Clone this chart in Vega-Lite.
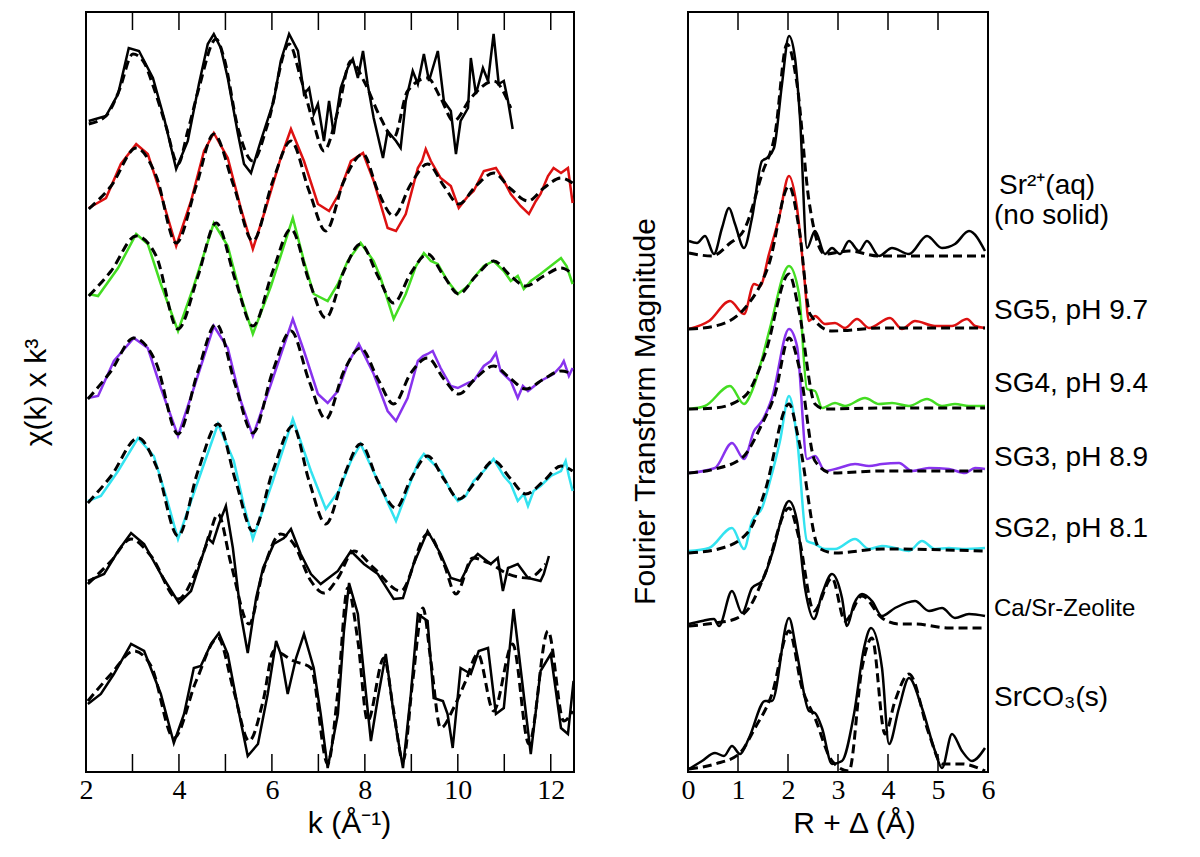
{
"$schema": "https://vega.github.io/schema/vega-lite/v6.json",
"padding": {"left": 20, "top": 10, "right": 0, "bottom": 0},
"background": "white",
"config": {"view": {"stroke": "black", "strokeWidth": 2}, "font": "Liberation Sans"},
"spacing": 54,
"datasets": {
"kt": [{"x":3,"lo":0,"hi":18},{"x":4,"lo":0,"hi":18},{"x":5,"lo":0,"hi":18},{"x":6,"lo":0,"hi":18},{"x":7,"lo":0,"hi":18},{"x":8,"lo":0,"hi":18},{"x":9,"lo":0,"hi":18},{"x":10,"lo":0,"hi":18},{"x":11,"lo":0,"hi":18},{"x":12,"lo":0,"hi":18},
{"x":3,"lo":742,"hi":760},{"x":4,"lo":742,"hi":760},{"x":5,"lo":742,"hi":760},{"x":6,"lo":742,"hi":760},{"x":7,"lo":742,"hi":760},{"x":8,"lo":742,"hi":760},{"x":9,"lo":742,"hi":760},{"x":10,"lo":742,"hi":760},{"x":11,"lo":742,"hi":760},{"x":12,"lo":742,"hi":760}],
"rt": [{"x":1,"lo":0,"hi":18},{"x":2,"lo":0,"hi":18},{"x":3,"lo":0,"hi":18},{"x":4,"lo":0,"hi":18},{"x":5,"lo":0,"hi":18},
{"x":1,"lo":742,"hi":760},{"x":2,"lo":742,"hi":760},{"x":3,"lo":742,"hi":760},{"x":4,"lo":742,"hi":760},{"x":5,"lo":742,"hi":760}],
"k": [
{"s":"aq","t":"d","x":2.06,"y":651},{"s":"aq","t":"d","x":2.43,"y":656},{"s":"aq","t":"d","x":2.69,"y":678},{"s":"aq","t":"d","x":2.92,"y":724},{"s":"aq","t":"d","x":3.14,"y":721},{"s":"aq","t":"d","x":3.44,"y":694},{"s":"aq","t":"d","x":3.68,"y":654},{"s":"aq","t":"d","x":3.94,"y":603},{"s":"aq","t":"d","x":4.19,"y":631},{"s":"aq","t":"d","x":4.43,"y":688},{"s":"aq","t":"d","x":4.62,"y":728},{"s":"aq","t":"d","x":4.75,"y":738},{"s":"aq","t":"d","x":4.90,"y":724},{"s":"aq","t":"d","x":5.05,"y":694},{"s":"aq","t":"d","x":5.27,"y":638},{"s":"aq","t":"d","x":5.40,"y":608},{"s":"aq","t":"d","x":5.55,"y":599},{"s":"aq","t":"d","x":5.76,"y":631},{"s":"aq","t":"d","x":6.04,"y":671},{"s":"aq","t":"d","x":6.19,"y":711},{"s":"aq","t":"d","x":6.37,"y":738},{"s":"aq","t":"d","x":6.56,"y":721},{"s":"aq","t":"d","x":6.69,"y":678},{"s":"aq","t":"d","x":6.80,"y":684},{"s":"aq","t":"d","x":6.90,"y":658},{"s":"aq","t":"d","x":6.99,"y":668},{"s":"aq","t":"d","x":7.12,"y":631},{"s":"aq","t":"d","x":7.23,"y":671},{"s":"aq","t":"d","x":7.33,"y":638},{"s":"aq","t":"d","x":7.48,"y":684},{"s":"aq","t":"d","x":7.63,"y":704},{"s":"aq","t":"d","x":7.74,"y":713},{"s":"aq","t":"d","x":7.85,"y":694},{"s":"aq","t":"d","x":7.96,"y":721},{"s":"aq","t":"d","x":8.06,"y":688},{"s":"aq","t":"d","x":8.19,"y":654},{"s":"aq","t":"d","x":8.39,"y":614},{"s":"aq","t":"d","x":8.49,"y":641},{"s":"aq","t":"d","x":8.67,"y":631},{"s":"aq","t":"d","x":8.77,"y":624},{"s":"aq","t":"d","x":8.88,"y":671},{"s":"aq","t":"d","x":9.03,"y":701},{"s":"aq","t":"d","x":9.14,"y":688},{"s":"aq","t":"d","x":9.27,"y":718},{"s":"aq","t":"d","x":9.38,"y":691},{"s":"aq","t":"d","x":9.57,"y":721},{"s":"aq","t":"d","x":9.70,"y":671},{"s":"aq","t":"d","x":9.85,"y":661},{"s":"aq","t":"d","x":9.96,"y":618},{"s":"aq","t":"d","x":10.06,"y":651},{"s":"aq","t":"d","x":10.22,"y":664},{"s":"aq","t":"d","x":10.28,"y":714},{"s":"aq","t":"d","x":10.39,"y":678},{"s":"aq","t":"d","x":10.54,"y":704},{"s":"aq","t":"d","x":10.65,"y":691},{"s":"aq","t":"d","x":10.77,"y":738},{"s":"aq","t":"d","x":10.88,"y":688},{"s":"aq","t":"d","x":10.99,"y":691},{"s":"aq","t":"d","x":11.08,"y":671},{"s":"aq","t":"d","x":11.18,"y":643},
{"s":"aq","t":"f","x":2.06,"y":648},{"s":"aq","t":"f","x":2.43,"y":656},{"s":"aq","t":"f","x":2.71,"y":681},{"s":"aq","t":"f","x":3.01,"y":718},{"s":"aq","t":"f","x":3.23,"y":711},{"s":"aq","t":"f","x":3.46,"y":684},{"s":"aq","t":"f","x":3.72,"y":646},{"s":"aq","t":"f","x":3.98,"y":608},{"s":"aq","t":"f","x":4.19,"y":641},{"s":"aq","t":"f","x":4.43,"y":684},{"s":"aq","t":"f","x":4.80,"y":733},{"s":"aq","t":"f","x":4.97,"y":714},{"s":"aq","t":"f","x":5.27,"y":644},{"s":"aq","t":"f","x":5.59,"y":611},{"s":"aq","t":"f","x":5.91,"y":648},{"s":"aq","t":"f","x":6.37,"y":728},{"s":"aq","t":"f","x":6.62,"y":694},{"s":"aq","t":"f","x":6.90,"y":648},{"s":"aq","t":"f","x":7.12,"y":621},{"s":"aq","t":"f","x":7.42,"y":661},{"s":"aq","t":"f","x":7.70,"y":711},{"s":"aq","t":"f","x":7.98,"y":691},{"s":"aq","t":"f","x":8.34,"y":654},{"s":"aq","t":"f","x":8.62,"y":634},{"s":"aq","t":"f","x":8.92,"y":681},{"s":"aq","t":"f","x":9.35,"y":694},{"s":"aq","t":"f","x":9.63,"y":674},{"s":"aq","t":"f","x":9.91,"y":651},{"s":"aq","t":"f","x":10.28,"y":674},{"s":"aq","t":"f","x":10.77,"y":691},{"s":"aq","t":"f","x":11.14,"y":664},
{"s":"sg5","t":"d","x":2.06,"y":564},{"s":"sg5","t":"d","x":2.43,"y":574},{"s":"sg5","t":"d","x":2.75,"y":608},{"s":"sg5","t":"d","x":3.08,"y":628},{"s":"sg5","t":"d","x":3.33,"y":618},{"s":"sg5","t":"d","x":3.61,"y":578},{"s":"sg5","t":"d","x":3.94,"y":526},{"s":"sg5","t":"d","x":4.26,"y":571},{"s":"sg5","t":"d","x":4.54,"y":621},{"s":"sg5","t":"d","x":4.75,"y":639},{"s":"sg5","t":"d","x":5.05,"y":614},{"s":"sg5","t":"d","x":5.33,"y":564},{"s":"sg5","t":"d","x":5.59,"y":523},{"s":"sg5","t":"d","x":5.87,"y":564},{"s":"sg5","t":"d","x":6.19,"y":614},{"s":"sg5","t":"d","x":6.41,"y":643},{"s":"sg5","t":"d","x":6.69,"y":611},{"s":"sg5","t":"d","x":6.99,"y":568},{"s":"sg5","t":"d","x":7.23,"y":561},{"s":"sg5","t":"d","x":7.44,"y":578},{"s":"sg5","t":"d","x":7.70,"y":611},{"s":"sg5","t":"d","x":7.96,"y":619},{"s":"sg5","t":"d","x":8.19,"y":591},{"s":"sg5","t":"d","x":8.49,"y":544},{"s":"sg5","t":"d","x":8.67,"y":541},{"s":"sg5","t":"d","x":8.88,"y":558},{"s":"sg5","t":"d","x":9.14,"y":604},{"s":"sg5","t":"d","x":9.23,"y":611},{"s":"sg5","t":"d","x":9.31,"y":623},{"s":"sg5","t":"d","x":9.42,"y":611},{"s":"sg5","t":"d","x":9.63,"y":594},{"s":"sg5","t":"d","x":9.85,"y":586},{"s":"sg5","t":"d","x":10.02,"y":564},{"s":"sg5","t":"d","x":10.22,"y":576},{"s":"sg5","t":"d","x":10.34,"y":581},{"s":"sg5","t":"d","x":10.56,"y":601},{"s":"sg5","t":"d","x":10.82,"y":604},{"s":"sg5","t":"d","x":10.97,"y":593},{"s":"sg5","t":"d","x":11.14,"y":578},{"s":"sg5","t":"d","x":11.35,"y":566},{"s":"sg5","t":"d","x":11.53,"y":558},{"s":"sg5","t":"d","x":11.68,"y":571},{"s":"sg5","t":"d","x":11.78,"y":578},{"s":"sg5","t":"d","x":11.94,"y":596},{"s":"sg5","t":"d","x":12.06,"y":604},{"s":"sg5","t":"d","x":12.22,"y":599},{"s":"sg5","t":"d","x":12.37,"y":604},{"s":"sg5","t":"d","x":12.47,"y":569},
{"s":"sg5","t":"f","x":2.06,"y":563},{"s":"sg5","t":"f","x":2.54,"y":586},{"s":"sg5","t":"f","x":3.08,"y":624},{"s":"sg5","t":"f","x":3.51,"y":596},{"s":"sg5","t":"f","x":3.94,"y":529},{"s":"sg5","t":"f","x":4.37,"y":586},{"s":"sg5","t":"f","x":4.75,"y":638},{"s":"sg5","t":"f","x":5.18,"y":586},{"s":"sg5","t":"f","x":5.59,"y":531},{"s":"sg5","t":"f","x":6.02,"y":591},{"s":"sg5","t":"f","x":6.41,"y":631},{"s":"sg5","t":"f","x":6.80,"y":581},{"s":"sg5","t":"f","x":7.16,"y":541},{"s":"sg5","t":"f","x":7.55,"y":591},{"s":"sg5","t":"f","x":7.96,"y":618},{"s":"sg5","t":"f","x":8.28,"y":581},{"s":"sg5","t":"f","x":8.62,"y":556},{"s":"sg5","t":"f","x":8.99,"y":588},{"s":"sg5","t":"f","x":9.35,"y":608},{"s":"sg5","t":"f","x":9.70,"y":586},{"s":"sg5","t":"f","x":10.02,"y":568},{"s":"sg5","t":"f","x":10.39,"y":586},{"s":"sg5","t":"f","x":10.77,"y":599},{"s":"sg5","t":"f","x":11.14,"y":583},{"s":"sg5","t":"f","x":11.51,"y":571},{"s":"sg5","t":"f","x":11.85,"y":584},{"s":"sg5","t":"f","x":12.22,"y":594},{"s":"sg5","t":"f","x":12.47,"y":589},
{"s":"sg4","t":"d","x":2.06,"y":478},{"s":"sg4","t":"d","x":2.26,"y":476},{"s":"sg4","t":"d","x":2.69,"y":504},{"s":"sg4","t":"d","x":3.08,"y":538},{"s":"sg4","t":"d","x":3.33,"y":528},{"s":"sg4","t":"d","x":3.61,"y":488},{"s":"sg4","t":"d","x":3.98,"y":441},{"s":"sg4","t":"d","x":4.32,"y":486},{"s":"sg4","t":"d","x":4.75,"y":549},{"s":"sg4","t":"d","x":5.05,"y":526},{"s":"sg4","t":"d","x":5.33,"y":476},{"s":"sg4","t":"d","x":5.59,"y":438},{"s":"sg4","t":"d","x":5.98,"y":486},{"s":"sg4","t":"d","x":6.45,"y":554},{"s":"sg4","t":"d","x":6.69,"y":511},{"s":"sg4","t":"d","x":6.90,"y":478},{"s":"sg4","t":"d","x":7.20,"y":471},{"s":"sg4","t":"d","x":7.42,"y":488},{"s":"sg4","t":"d","x":7.63,"y":511},{"s":"sg4","t":"d","x":7.91,"y":529},{"s":"sg4","t":"d","x":8.19,"y":511},{"s":"sg4","t":"d","x":8.34,"y":494},{"s":"sg4","t":"d","x":8.62,"y":453},{"s":"sg4","t":"d","x":8.88,"y":478},{"s":"sg4","t":"d","x":9.10,"y":506},{"s":"sg4","t":"d","x":9.27,"y":519},{"s":"sg4","t":"d","x":9.42,"y":511},{"s":"sg4","t":"d","x":9.57,"y":508},{"s":"sg4","t":"d","x":9.78,"y":491},{"s":"sg4","t":"d","x":10.00,"y":478},{"s":"sg4","t":"d","x":10.22,"y":486},{"s":"sg4","t":"d","x":10.34,"y":494},{"s":"sg4","t":"d","x":10.56,"y":506},{"s":"sg4","t":"d","x":10.77,"y":511},{"s":"sg4","t":"d","x":10.99,"y":501},{"s":"sg4","t":"d","x":11.14,"y":491},{"s":"sg4","t":"d","x":11.29,"y":496},{"s":"sg4","t":"d","x":11.42,"y":483},{"s":"sg4","t":"d","x":11.57,"y":491},{"s":"sg4","t":"d","x":11.78,"y":498},{"s":"sg4","t":"d","x":12.00,"y":506},{"s":"sg4","t":"d","x":12.22,"y":514},{"s":"sg4","t":"d","x":12.34,"y":506},{"s":"sg4","t":"d","x":12.47,"y":488},
{"s":"sg4","t":"f","x":2.06,"y":476},{"s":"sg4","t":"f","x":2.54,"y":501},{"s":"sg4","t":"f","x":3.08,"y":536},{"s":"sg4","t":"f","x":3.51,"y":516},{"s":"sg4","t":"f","x":3.98,"y":443},{"s":"sg4","t":"f","x":4.41,"y":496},{"s":"sg4","t":"f","x":4.80,"y":549},{"s":"sg4","t":"f","x":5.22,"y":491},{"s":"sg4","t":"f","x":5.59,"y":446},{"s":"sg4","t":"f","x":6.02,"y":501},{"s":"sg4","t":"f","x":6.41,"y":543},{"s":"sg4","t":"f","x":6.80,"y":491},{"s":"sg4","t":"f","x":7.16,"y":454},{"s":"sg4","t":"f","x":7.55,"y":501},{"s":"sg4","t":"f","x":7.91,"y":528},{"s":"sg4","t":"f","x":8.28,"y":496},{"s":"sg4","t":"f","x":8.62,"y":469},{"s":"sg4","t":"f","x":8.99,"y":499},{"s":"sg4","t":"f","x":9.35,"y":518},{"s":"sg4","t":"f","x":9.70,"y":496},{"s":"sg4","t":"f","x":10.02,"y":478},{"s":"sg4","t":"f","x":10.39,"y":496},{"s":"sg4","t":"f","x":10.77,"y":511},{"s":"sg4","t":"f","x":11.14,"y":496},{"s":"sg4","t":"f","x":11.46,"y":486},{"s":"sg4","t":"f","x":11.85,"y":496},{"s":"sg4","t":"f","x":12.22,"y":504},{"s":"sg4","t":"f","x":12.47,"y":498},
{"s":"sg3","t":"d","x":2.04,"y":374},{"s":"sg3","t":"d","x":2.26,"y":376},{"s":"sg3","t":"d","x":2.60,"y":411},{"s":"sg3","t":"d","x":3.03,"y":434},{"s":"sg3","t":"d","x":3.33,"y":424},{"s":"sg3","t":"d","x":3.61,"y":384},{"s":"sg3","t":"d","x":3.98,"y":336},{"s":"sg3","t":"d","x":4.32,"y":384},{"s":"sg3","t":"d","x":4.75,"y":446},{"s":"sg3","t":"d","x":5.05,"y":424},{"s":"sg3","t":"d","x":5.33,"y":371},{"s":"sg3","t":"d","x":5.59,"y":336},{"s":"sg3","t":"d","x":5.98,"y":388},{"s":"sg3","t":"d","x":6.45,"y":453},{"s":"sg3","t":"d","x":6.69,"y":421},{"s":"sg3","t":"d","x":6.99,"y":378},{"s":"sg3","t":"d","x":7.20,"y":369},{"s":"sg3","t":"d","x":7.42,"y":381},{"s":"sg3","t":"d","x":7.63,"y":408},{"s":"sg3","t":"d","x":7.87,"y":428},{"s":"sg3","t":"d","x":8.19,"y":398},{"s":"sg3","t":"d","x":8.49,"y":361},{"s":"sg3","t":"d","x":8.67,"y":351},{"s":"sg3","t":"d","x":8.92,"y":374},{"s":"sg3","t":"d","x":9.14,"y":411},{"s":"sg3","t":"d","x":9.25,"y":416},{"s":"sg3","t":"d","x":9.35,"y":418},{"s":"sg3","t":"d","x":9.46,"y":421},{"s":"sg3","t":"d","x":9.63,"y":404},{"s":"sg3","t":"d","x":9.85,"y":386},{"s":"sg3","t":"d","x":10.00,"y":384},{"s":"sg3","t":"d","x":10.22,"y":389},{"s":"sg3","t":"d","x":10.34,"y":391},{"s":"sg3","t":"d","x":10.56,"y":406},{"s":"sg3","t":"d","x":10.71,"y":411},{"s":"sg3","t":"d","x":10.82,"y":419},{"s":"sg3","t":"d","x":10.92,"y":401},{"s":"sg3","t":"d","x":11.14,"y":391},{"s":"sg3","t":"d","x":11.29,"y":374},{"s":"sg3","t":"d","x":11.40,"y":386},{"s":"sg3","t":"d","x":11.51,"y":381},{"s":"sg3","t":"d","x":11.78,"y":391},{"s":"sg3","t":"d","x":12.06,"y":398},{"s":"sg3","t":"d","x":12.22,"y":406},{"s":"sg3","t":"d","x":12.28,"y":411},{"s":"sg3","t":"d","x":12.39,"y":396},{"s":"sg3","t":"d","x":12.47,"y":404},
{"s":"sg3","t":"f","x":2.04,"y":373},{"s":"sg3","t":"f","x":2.54,"y":401},{"s":"sg3","t":"f","x":3.03,"y":434},{"s":"sg3","t":"f","x":3.51,"y":409},{"s":"sg3","t":"f","x":3.98,"y":338},{"s":"sg3","t":"f","x":4.41,"y":401},{"s":"sg3","t":"f","x":4.80,"y":448},{"s":"sg3","t":"f","x":5.22,"y":386},{"s":"sg3","t":"f","x":5.59,"y":339},{"s":"sg3","t":"f","x":6.02,"y":401},{"s":"sg3","t":"f","x":6.41,"y":441},{"s":"sg3","t":"f","x":6.80,"y":391},{"s":"sg3","t":"f","x":7.16,"y":353},{"s":"sg3","t":"f","x":7.55,"y":401},{"s":"sg3","t":"f","x":7.91,"y":424},{"s":"sg3","t":"f","x":8.28,"y":393},{"s":"sg3","t":"f","x":8.62,"y":368},{"s":"sg3","t":"f","x":8.99,"y":399},{"s":"sg3","t":"f","x":9.35,"y":414},{"s":"sg3","t":"f","x":9.70,"y":393},{"s":"sg3","t":"f","x":10.02,"y":378},{"s":"sg3","t":"f","x":10.39,"y":394},{"s":"sg3","t":"f","x":10.77,"y":406},{"s":"sg3","t":"f","x":11.14,"y":393},{"s":"sg3","t":"f","x":11.46,"y":383},{"s":"sg3","t":"f","x":11.85,"y":393},{"s":"sg3","t":"f","x":12.22,"y":401},{"s":"sg3","t":"f","x":12.47,"y":398},
{"s":"sg2","t":"d","x":2.04,"y":271},{"s":"sg2","t":"d","x":2.32,"y":276},{"s":"sg2","t":"d","x":2.69,"y":301},{"s":"sg2","t":"d","x":3.12,"y":334},{"s":"sg2","t":"d","x":3.46,"y":316},{"s":"sg2","t":"d","x":3.72,"y":276},{"s":"sg2","t":"d","x":3.98,"y":233},{"s":"sg2","t":"d","x":4.41,"y":291},{"s":"sg2","t":"d","x":4.84,"y":348},{"s":"sg2","t":"d","x":5.18,"y":311},{"s":"sg2","t":"d","x":5.40,"y":266},{"s":"sg2","t":"d","x":5.59,"y":233},{"s":"sg2","t":"d","x":6.02,"y":291},{"s":"sg2","t":"d","x":6.45,"y":353},{"s":"sg2","t":"d","x":6.84,"y":301},{"s":"sg2","t":"d","x":7.16,"y":263},{"s":"sg2","t":"d","x":7.44,"y":281},{"s":"sg2","t":"d","x":7.70,"y":311},{"s":"sg2","t":"d","x":7.91,"y":328},{"s":"sg2","t":"d","x":8.28,"y":291},{"s":"sg2","t":"d","x":8.67,"y":251},{"s":"sg2","t":"d","x":8.99,"y":291},{"s":"sg2","t":"d","x":9.16,"y":311},{"s":"sg2","t":"d","x":9.27,"y":318},{"s":"sg2","t":"d","x":9.42,"y":311},{"s":"sg2","t":"d","x":9.63,"y":301},{"s":"sg2","t":"d","x":9.85,"y":281},{"s":"sg2","t":"d","x":10.00,"y":271},{"s":"sg2","t":"d","x":10.17,"y":276},{"s":"sg2","t":"d","x":10.34,"y":291},{"s":"sg2","t":"d","x":10.56,"y":301},{"s":"sg2","t":"d","x":10.77,"y":313},{"s":"sg2","t":"d","x":10.99,"y":296},{"s":"sg2","t":"d","x":11.14,"y":288},{"s":"sg2","t":"d","x":11.29,"y":271},{"s":"sg2","t":"d","x":11.42,"y":278},{"s":"sg2","t":"d","x":11.51,"y":266},{"s":"sg2","t":"d","x":11.63,"y":281},{"s":"sg2","t":"d","x":11.78,"y":286},{"s":"sg2","t":"d","x":12.00,"y":296},{"s":"sg2","t":"d","x":12.22,"y":301},{"s":"sg2","t":"d","x":12.32,"y":311},{"s":"sg2","t":"d","x":12.39,"y":296},{"s":"sg2","t":"d","x":12.47,"y":281},
{"s":"sg2","t":"f","x":2.04,"y":269},{"s":"sg2","t":"f","x":2.54,"y":296},{"s":"sg2","t":"f","x":3.12,"y":334},{"s":"sg2","t":"f","x":3.51,"y":306},{"s":"sg2","t":"f","x":3.98,"y":236},{"s":"sg2","t":"f","x":4.41,"y":301},{"s":"sg2","t":"f","x":4.84,"y":348},{"s":"sg2","t":"f","x":5.22,"y":291},{"s":"sg2","t":"f","x":5.59,"y":241},{"s":"sg2","t":"f","x":6.02,"y":301},{"s":"sg2","t":"f","x":6.45,"y":346},{"s":"sg2","t":"f","x":6.80,"y":291},{"s":"sg2","t":"f","x":7.16,"y":248},{"s":"sg2","t":"f","x":7.55,"y":296},{"s":"sg2","t":"f","x":7.91,"y":328},{"s":"sg2","t":"f","x":8.28,"y":291},{"s":"sg2","t":"f","x":8.67,"y":264},{"s":"sg2","t":"f","x":8.99,"y":293},{"s":"sg2","t":"f","x":9.35,"y":316},{"s":"sg2","t":"f","x":9.70,"y":293},{"s":"sg2","t":"f","x":10.02,"y":273},{"s":"sg2","t":"f","x":10.39,"y":291},{"s":"sg2","t":"f","x":10.77,"y":311},{"s":"sg2","t":"f","x":11.14,"y":293},{"s":"sg2","t":"f","x":11.46,"y":278},{"s":"sg2","t":"f","x":11.85,"y":291},{"s":"sg2","t":"f","x":12.22,"y":306},{"s":"sg2","t":"f","x":12.47,"y":301},
{"s":"zeo","t":"d","x":2.04,"y":191},{"s":"zeo","t":"d","x":2.39,"y":198},{"s":"zeo","t":"d","x":2.69,"y":221},{"s":"zeo","t":"d","x":2.97,"y":239},{"s":"zeo","t":"d","x":3.25,"y":228},{"s":"zeo","t":"d","x":3.61,"y":198},{"s":"zeo","t":"d","x":4.00,"y":169},{"s":"zeo","t":"d","x":4.26,"y":181},{"s":"zeo","t":"d","x":4.52,"y":218},{"s":"zeo","t":"d","x":4.62,"y":234},{"s":"zeo","t":"d","x":4.73,"y":229},{"s":"zeo","t":"d","x":4.86,"y":248},{"s":"zeo","t":"d","x":5.01,"y":266},{"s":"zeo","t":"d","x":5.16,"y":224},{"s":"zeo","t":"d","x":5.33,"y":158},{"s":"zeo","t":"d","x":5.48,"y":119},{"s":"zeo","t":"d","x":5.66,"y":174},{"s":"zeo","t":"d","x":5.81,"y":204},{"s":"zeo","t":"d","x":6.04,"y":228},{"s":"zeo","t":"d","x":6.26,"y":234},{"s":"zeo","t":"d","x":6.41,"y":243},{"s":"zeo","t":"d","x":6.62,"y":218},{"s":"zeo","t":"d","x":6.84,"y":198},{"s":"zeo","t":"d","x":7.05,"y":188},{"s":"zeo","t":"d","x":7.42,"y":201},{"s":"zeo","t":"d","x":7.70,"y":221},{"s":"zeo","t":"d","x":7.98,"y":208},{"s":"zeo","t":"d","x":8.28,"y":198},{"s":"zeo","t":"d","x":8.62,"y":173},{"s":"zeo","t":"d","x":8.82,"y":174},{"s":"zeo","t":"d","x":9.05,"y":208},{"s":"zeo","t":"d","x":9.35,"y":241},{"s":"zeo","t":"d","x":9.63,"y":218},{"s":"zeo","t":"d","x":9.85,"y":194},{"s":"zeo","t":"d","x":10.06,"y":191},{"s":"zeo","t":"d","x":10.28,"y":211},{"s":"zeo","t":"d","x":10.43,"y":218},{"s":"zeo","t":"d","x":10.71,"y":208},{"s":"zeo","t":"d","x":10.86,"y":214},{"s":"zeo","t":"d","x":10.97,"y":181},{"s":"zeo","t":"d","x":11.08,"y":204},{"s":"zeo","t":"d","x":11.29,"y":208},{"s":"zeo","t":"d","x":11.51,"y":194},{"s":"zeo","t":"d","x":11.78,"y":191},{"s":"zeo","t":"d","x":11.85,"y":198},{"s":"zeo","t":"d","x":11.96,"y":216},
{"s":"zeo","t":"f","x":2.04,"y":188},{"s":"zeo","t":"f","x":2.54,"y":211},{"s":"zeo","t":"f","x":2.97,"y":233},{"s":"zeo","t":"f","x":3.40,"y":216},{"s":"zeo","t":"f","x":3.98,"y":173},{"s":"zeo","t":"f","x":4.37,"y":201},{"s":"zeo","t":"f","x":4.62,"y":231},{"s":"zeo","t":"f","x":4.84,"y":258},{"s":"zeo","t":"f","x":5.12,"y":208},{"s":"zeo","t":"f","x":5.51,"y":148},{"s":"zeo","t":"f","x":5.81,"y":201},{"s":"zeo","t":"f","x":6.19,"y":238},{"s":"zeo","t":"f","x":6.47,"y":228},{"s":"zeo","t":"f","x":6.84,"y":191},{"s":"zeo","t":"f","x":7.12,"y":179},{"s":"zeo","t":"f","x":7.42,"y":194},{"s":"zeo","t":"f","x":7.76,"y":221},{"s":"zeo","t":"f","x":8.19,"y":204},{"s":"zeo","t":"f","x":8.77,"y":181},{"s":"zeo","t":"f","x":9.35,"y":238},{"s":"zeo","t":"f","x":9.70,"y":208},{"s":"zeo","t":"f","x":9.96,"y":178},{"s":"zeo","t":"f","x":10.32,"y":214},{"s":"zeo","t":"f","x":10.71,"y":208},{"s":"zeo","t":"f","x":11.08,"y":198},{"s":"zeo","t":"f","x":11.51,"y":194},{"s":"zeo","t":"f","x":11.89,"y":208},
{"s":"co3","t":"d","x":2.04,"y":68},{"s":"co3","t":"d","x":2.32,"y":78},{"s":"co3","t":"d","x":2.60,"y":98},{"s":"co3","t":"d","x":2.97,"y":128},{"s":"co3","t":"d","x":3.25,"y":121},{"s":"co3","t":"d","x":3.61,"y":78},{"s":"co3","t":"d","x":3.89,"y":29},{"s":"co3","t":"d","x":4.11,"y":58},{"s":"co3","t":"d","x":4.32,"y":104},{"s":"co3","t":"d","x":4.47,"y":106},{"s":"co3","t":"d","x":4.69,"y":128},{"s":"co3","t":"d","x":4.86,"y":139},{"s":"co3","t":"d","x":5.05,"y":118},{"s":"co3","t":"d","x":5.27,"y":64},{"s":"co3","t":"d","x":5.48,"y":16},{"s":"co3","t":"d","x":5.70,"y":28},{"s":"co3","t":"d","x":5.91,"y":78},{"s":"co3","t":"d","x":6.09,"y":131},{"s":"co3","t":"d","x":6.19,"y":118},{"s":"co3","t":"d","x":6.34,"y":78},{"s":"co3","t":"d","x":6.52,"y":114},{"s":"co3","t":"d","x":6.69,"y":138},{"s":"co3","t":"d","x":6.90,"y":104},{"s":"co3","t":"d","x":7.05,"y":58},{"s":"co3","t":"d","x":7.20,"y":4},{"s":"co3","t":"d","x":7.42,"y":58},{"s":"co3","t":"d","x":7.55,"y":141},{"s":"co3","t":"d","x":7.66,"y":189},{"s":"co3","t":"d","x":7.85,"y":158},{"s":"co3","t":"d","x":7.98,"y":98},{"s":"co3","t":"d","x":8.13,"y":31},{"s":"co3","t":"d","x":8.28,"y":74},{"s":"co3","t":"d","x":8.45,"y":118},{"s":"co3","t":"d","x":8.62,"y":58},{"s":"co3","t":"d","x":8.82,"y":4},{"s":"co3","t":"d","x":8.99,"y":78},{"s":"co3","t":"d","x":9.14,"y":158},{"s":"co3","t":"d","x":9.35,"y":151},{"s":"co3","t":"d","x":9.48,"y":74},{"s":"co3","t":"d","x":9.68,"y":71},{"s":"co3","t":"d","x":9.78,"y":58},{"s":"co3","t":"d","x":9.89,"y":24},{"s":"co3","t":"d","x":10.06,"y":104},{"s":"co3","t":"d","x":10.28,"y":98},{"s":"co3","t":"d","x":10.45,"y":121},{"s":"co3","t":"d","x":10.65,"y":124},{"s":"co3","t":"d","x":10.82,"y":58},{"s":"co3","t":"d","x":10.99,"y":64},{"s":"co3","t":"d","x":11.20,"y":163},{"s":"co3","t":"d","x":11.35,"y":104},{"s":"co3","t":"d","x":11.57,"y":18},{"s":"co3","t":"d","x":11.78,"y":101},{"s":"co3","t":"d","x":12.00,"y":118},{"s":"co3","t":"d","x":12.22,"y":44},{"s":"co3","t":"d","x":12.37,"y":38},{"s":"co3","t":"d","x":12.49,"y":91},
{"s":"co3","t":"f","x":2.04,"y":71},{"s":"co3","t":"f","x":2.54,"y":98},{"s":"co3","t":"f","x":3.03,"y":121},{"s":"co3","t":"f","x":3.40,"y":106},{"s":"co3","t":"f","x":3.89,"y":34},{"s":"co3","t":"f","x":4.37,"y":91},{"s":"co3","t":"f","x":4.84,"y":134},{"s":"co3","t":"f","x":5.18,"y":81},{"s":"co3","t":"f","x":5.51,"y":31},{"s":"co3","t":"f","x":5.81,"y":71},{"s":"co3","t":"f","x":6.04,"y":121},{"s":"co3","t":"f","x":6.47,"y":111},{"s":"co3","t":"f","x":6.84,"y":104},{"s":"co3","t":"f","x":7.20,"y":8},{"s":"co3","t":"f","x":7.42,"y":81},{"s":"co3","t":"f","x":7.63,"y":184},{"s":"co3","t":"f","x":7.85,"y":131},{"s":"co3","t":"f","x":8.06,"y":51},{"s":"co3","t":"f","x":8.41,"y":114},{"s":"co3","t":"f","x":8.62,"y":61},{"s":"co3","t":"f","x":8.82,"y":11},{"s":"co3","t":"f","x":9.03,"y":91},{"s":"co3","t":"f","x":9.25,"y":164},{"s":"co3","t":"f","x":9.42,"y":111},{"s":"co3","t":"f","x":9.63,"y":44},{"s":"co3","t":"f","x":9.91,"y":64},{"s":"co3","t":"f","x":10.17,"y":91},{"s":"co3","t":"f","x":10.43,"y":118},{"s":"co3","t":"f","x":10.77,"y":61},{"s":"co3","t":"f","x":11.18,"y":128},{"s":"co3","t":"f","x":11.53,"y":28},{"s":"co3","t":"f","x":11.94,"y":141},{"s":"co3","t":"f","x":12.28,"y":51},{"s":"co3","t":"f","x":12.47,"y":61}
],
"r": [
{"s":"aq","t":"d","x":0.02,"y":531},{"s":"aq","t":"d","x":0.18,"y":529},{"s":"aq","t":"d","x":0.34,"y":536},{"s":"aq","t":"d","x":0.52,"y":518},{"s":"aq","t":"d","x":0.68,"y":544},{"s":"aq","t":"d","x":0.82,"y":564},{"s":"aq","t":"d","x":0.94,"y":548},{"s":"aq","t":"d","x":1.12,"y":524},{"s":"aq","t":"d","x":1.28,"y":554},{"s":"aq","t":"d","x":1.48,"y":611},{"s":"aq","t":"d","x":1.58,"y":614},{"s":"aq","t":"d","x":1.72,"y":624},{"s":"aq","t":"d","x":1.88,"y":688},{"s":"aq","t":"d","x":2.02,"y":736},{"s":"aq","t":"d","x":2.14,"y":714},{"s":"aq","t":"d","x":2.24,"y":654},{"s":"aq","t":"d","x":2.38,"y":524},{"s":"aq","t":"d","x":2.54,"y":541},{"s":"aq","t":"d","x":2.74,"y":518},{"s":"aq","t":"d","x":2.88,"y":524},{"s":"aq","t":"d","x":3.04,"y":518},{"s":"aq","t":"d","x":3.22,"y":531},{"s":"aq","t":"d","x":3.42,"y":521},{"s":"aq","t":"d","x":3.58,"y":531},{"s":"aq","t":"d","x":3.82,"y":516},{"s":"aq","t":"d","x":4.08,"y":524},{"s":"aq","t":"d","x":4.42,"y":518},{"s":"aq","t":"d","x":4.78,"y":536},{"s":"aq","t":"d","x":5.08,"y":524},{"s":"aq","t":"d","x":5.34,"y":528},{"s":"aq","t":"d","x":5.62,"y":541},{"s":"aq","t":"d","x":5.94,"y":521},
{"s":"aq","t":"f","x":0.02,"y":519},{"s":"aq","t":"f","x":0.48,"y":516},{"s":"aq","t":"f","x":0.82,"y":528},{"s":"aq","t":"f","x":1.14,"y":544},{"s":"aq","t":"f","x":1.48,"y":598},{"s":"aq","t":"f","x":1.74,"y":638},{"s":"aq","t":"f","x":1.98,"y":728},{"s":"aq","t":"f","x":2.18,"y":688},{"s":"aq","t":"f","x":2.42,"y":571},{"s":"aq","t":"f","x":2.74,"y":518},{"s":"aq","t":"f","x":3.22,"y":521},{"s":"aq","t":"f","x":3.82,"y":516},{"s":"aq","t":"f","x":4.54,"y":516},{"s":"aq","t":"f","x":5.22,"y":516},{"s":"aq","t":"f","x":5.94,"y":516},
{"s":"sg5","t":"d","x":0.02,"y":443},{"s":"sg5","t":"d","x":0.42,"y":451},{"s":"sg5","t":"d","x":0.84,"y":471},{"s":"sg5","t":"d","x":1.12,"y":458},{"s":"sg5","t":"d","x":1.32,"y":488},{"s":"sg5","t":"d","x":1.44,"y":486},{"s":"sg5","t":"d","x":1.62,"y":518},{"s":"sg5","t":"d","x":1.82,"y":554},{"s":"sg5","t":"d","x":2.02,"y":596},{"s":"sg5","t":"d","x":2.18,"y":564},{"s":"sg5","t":"d","x":2.32,"y":498},{"s":"sg5","t":"d","x":2.42,"y":451},{"s":"sg5","t":"d","x":2.54,"y":456},{"s":"sg5","t":"d","x":2.74,"y":448},{"s":"sg5","t":"d","x":2.94,"y":449},{"s":"sg5","t":"d","x":3.14,"y":444},{"s":"sg5","t":"d","x":3.38,"y":453},{"s":"sg5","t":"d","x":3.62,"y":444},{"s":"sg5","t":"d","x":4.04,"y":454},{"s":"sg5","t":"d","x":4.28,"y":443},{"s":"sg5","t":"d","x":4.54,"y":451},{"s":"sg5","t":"d","x":4.94,"y":446},{"s":"sg5","t":"d","x":5.28,"y":446},{"s":"sg5","t":"d","x":5.58,"y":453},{"s":"sg5","t":"d","x":5.74,"y":446},{"s":"sg5","t":"d","x":5.94,"y":444},
{"s":"sg5","t":"f","x":0.02,"y":443},{"s":"sg5","t":"f","x":0.54,"y":446},{"s":"sg5","t":"f","x":1.14,"y":464},{"s":"sg5","t":"f","x":1.62,"y":508},{"s":"sg5","t":"f","x":2.02,"y":586},{"s":"sg5","t":"f","x":2.22,"y":544},{"s":"sg5","t":"f","x":2.44,"y":458},{"s":"sg5","t":"f","x":2.88,"y":441},{"s":"sg5","t":"f","x":3.88,"y":444},{"s":"sg5","t":"f","x":5.94,"y":444},
{"s":"sg4","t":"d","x":0.02,"y":363},{"s":"sg4","t":"d","x":0.34,"y":366},{"s":"sg4","t":"d","x":0.84,"y":386},{"s":"sg4","t":"d","x":1.12,"y":368},{"s":"sg4","t":"d","x":1.28,"y":381},{"s":"sg4","t":"d","x":1.48,"y":413},{"s":"sg4","t":"d","x":1.64,"y":444},{"s":"sg4","t":"d","x":2.02,"y":506},{"s":"sg4","t":"d","x":2.22,"y":478},{"s":"sg4","t":"d","x":2.38,"y":383},{"s":"sg4","t":"d","x":2.54,"y":381},{"s":"sg4","t":"d","x":2.68,"y":364},{"s":"sg4","t":"d","x":2.94,"y":369},{"s":"sg4","t":"d","x":3.14,"y":366},{"s":"sg4","t":"d","x":3.54,"y":374},{"s":"sg4","t":"d","x":3.82,"y":368},{"s":"sg4","t":"d","x":4.08,"y":369},{"s":"sg4","t":"d","x":4.42,"y":366},{"s":"sg4","t":"d","x":4.78,"y":373},{"s":"sg4","t":"d","x":5.08,"y":366},{"s":"sg4","t":"d","x":5.34,"y":368},{"s":"sg4","t":"d","x":5.62,"y":366},{"s":"sg4","t":"d","x":5.94,"y":366},
{"s":"sg4","t":"f","x":0.02,"y":363},{"s":"sg4","t":"f","x":0.54,"y":364},{"s":"sg4","t":"f","x":1.14,"y":376},{"s":"sg4","t":"f","x":1.54,"y":418},{"s":"sg4","t":"f","x":2.02,"y":498},{"s":"sg4","t":"f","x":2.22,"y":461},{"s":"sg4","t":"f","x":2.54,"y":368},{"s":"sg4","t":"f","x":2.74,"y":363},{"s":"sg4","t":"f","x":3.88,"y":364},{"s":"sg4","t":"f","x":5.94,"y":364},
{"s":"sg3","t":"d","x":0.02,"y":299},{"s":"sg3","t":"d","x":0.54,"y":304},{"s":"sg3","t":"d","x":0.88,"y":329},{"s":"sg3","t":"d","x":1.12,"y":313},{"s":"sg3","t":"d","x":1.32,"y":341},{"s":"sg3","t":"d","x":1.48,"y":351},{"s":"sg3","t":"d","x":1.68,"y":374},{"s":"sg3","t":"d","x":2.02,"y":443},{"s":"sg3","t":"d","x":2.18,"y":426},{"s":"sg3","t":"d","x":2.38,"y":313},{"s":"sg3","t":"d","x":2.54,"y":316},{"s":"sg3","t":"d","x":2.74,"y":301},{"s":"sg3","t":"d","x":3.02,"y":304},{"s":"sg3","t":"d","x":3.34,"y":308},{"s":"sg3","t":"d","x":3.62,"y":306},{"s":"sg3","t":"d","x":3.88,"y":308},{"s":"sg3","t":"d","x":4.22,"y":309},{"s":"sg3","t":"d","x":4.48,"y":301},{"s":"sg3","t":"d","x":4.82,"y":304},{"s":"sg3","t":"d","x":5.22,"y":303},{"s":"sg3","t":"d","x":5.54,"y":299},{"s":"sg3","t":"d","x":5.74,"y":304},{"s":"sg3","t":"d","x":5.94,"y":303},
{"s":"sg3","t":"f","x":0.02,"y":299},{"s":"sg3","t":"f","x":0.54,"y":303},{"s":"sg3","t":"f","x":1.08,"y":314},{"s":"sg3","t":"f","x":1.48,"y":348},{"s":"sg3","t":"f","x":1.74,"y":378},{"s":"sg3","t":"f","x":2.02,"y":434},{"s":"sg3","t":"f","x":2.24,"y":401},{"s":"sg3","t":"f","x":2.54,"y":311},{"s":"sg3","t":"f","x":2.88,"y":299},{"s":"sg3","t":"f","x":3.88,"y":301},{"s":"sg3","t":"f","x":5.94,"y":301},
{"s":"sg2","t":"d","x":0.02,"y":221},{"s":"sg2","t":"d","x":0.42,"y":224},{"s":"sg2","t":"d","x":0.88,"y":244},{"s":"sg2","t":"d","x":1.12,"y":223},{"s":"sg2","t":"d","x":1.28,"y":251},{"s":"sg2","t":"d","x":1.48,"y":264},{"s":"sg2","t":"d","x":1.64,"y":291},{"s":"sg2","t":"d","x":1.84,"y":331},{"s":"sg2","t":"d","x":2.02,"y":376},{"s":"sg2","t":"d","x":2.18,"y":334},{"s":"sg2","t":"d","x":2.38,"y":231},{"s":"sg2","t":"d","x":2.54,"y":228},{"s":"sg2","t":"d","x":2.74,"y":223},{"s":"sg2","t":"d","x":2.94,"y":223},{"s":"sg2","t":"d","x":3.34,"y":233},{"s":"sg2","t":"d","x":3.62,"y":223},{"s":"sg2","t":"d","x":3.88,"y":226},{"s":"sg2","t":"d","x":4.14,"y":224},{"s":"sg2","t":"d","x":4.42,"y":221},{"s":"sg2","t":"d","x":4.68,"y":231},{"s":"sg2","t":"d","x":4.94,"y":223},{"s":"sg2","t":"d","x":5.22,"y":224},{"s":"sg2","t":"d","x":5.48,"y":223},{"s":"sg2","t":"d","x":5.94,"y":224},
{"s":"sg2","t":"f","x":0.02,"y":219},{"s":"sg2","t":"f","x":0.68,"y":224},{"s":"sg2","t":"f","x":1.22,"y":241},{"s":"sg2","t":"f","x":1.54,"y":281},{"s":"sg2","t":"f","x":2.02,"y":368},{"s":"sg2","t":"f","x":2.22,"y":331},{"s":"sg2","t":"f","x":2.62,"y":224},{"s":"sg2","t":"f","x":2.94,"y":219},{"s":"sg2","t":"f","x":3.88,"y":223},{"s":"sg2","t":"f","x":5.94,"y":221},
{"s":"zeo","t":"d","x":0.02,"y":148},{"s":"zeo","t":"d","x":0.28,"y":151},{"s":"zeo","t":"d","x":0.52,"y":153},{"s":"zeo","t":"d","x":0.62,"y":146},{"s":"zeo","t":"d","x":0.88,"y":181},{"s":"zeo","t":"d","x":1.08,"y":159},{"s":"zeo","t":"d","x":1.28,"y":184},{"s":"zeo","t":"d","x":1.48,"y":191},{"s":"zeo","t":"d","x":1.68,"y":218},{"s":"zeo","t":"d","x":2.02,"y":271},{"s":"zeo","t":"d","x":2.18,"y":251},{"s":"zeo","t":"d","x":2.34,"y":184},{"s":"zeo","t":"d","x":2.52,"y":153},{"s":"zeo","t":"d","x":2.68,"y":178},{"s":"zeo","t":"d","x":2.88,"y":198},{"s":"zeo","t":"d","x":3.08,"y":174},{"s":"zeo","t":"d","x":3.18,"y":146},{"s":"zeo","t":"d","x":3.32,"y":168},{"s":"zeo","t":"d","x":3.48,"y":178},{"s":"zeo","t":"d","x":3.68,"y":171},{"s":"zeo","t":"d","x":3.88,"y":156},{"s":"zeo","t":"d","x":4.14,"y":164},{"s":"zeo","t":"d","x":4.54,"y":171},{"s":"zeo","t":"d","x":4.82,"y":161},{"s":"zeo","t":"d","x":5.08,"y":164},{"s":"zeo","t":"d","x":5.34,"y":154},{"s":"zeo","t":"d","x":5.62,"y":158},{"s":"zeo","t":"d","x":5.94,"y":156},
{"s":"zeo","t":"f","x":0.02,"y":146},{"s":"zeo","t":"f","x":0.54,"y":149},{"s":"zeo","t":"f","x":0.94,"y":153},{"s":"zeo","t":"f","x":1.22,"y":164},{"s":"zeo","t":"f","x":1.54,"y":198},{"s":"zeo","t":"f","x":2.02,"y":264},{"s":"zeo","t":"f","x":2.22,"y":234},{"s":"zeo","t":"f","x":2.52,"y":161},{"s":"zeo","t":"f","x":2.88,"y":194},{"s":"zeo","t":"f","x":3.14,"y":151},{"s":"zeo","t":"f","x":3.48,"y":176},{"s":"zeo","t":"f","x":3.88,"y":154},{"s":"zeo","t":"f","x":4.22,"y":148},{"s":"zeo","t":"f","x":4.54,"y":148},{"s":"zeo","t":"f","x":5.22,"y":144},{"s":"zeo","t":"f","x":5.94,"y":144},
{"s":"co3","t":"d","x":0.02,"y":3},{"s":"co3","t":"d","x":0.28,"y":11},{"s":"co3","t":"d","x":0.54,"y":19},{"s":"co3","t":"d","x":0.72,"y":16},{"s":"co3","t":"d","x":0.88,"y":26},{"s":"co3","t":"d","x":1.04,"y":18},{"s":"co3","t":"d","x":1.22,"y":34},{"s":"co3","t":"d","x":1.54,"y":71},{"s":"co3","t":"d","x":1.68,"y":71},{"s":"co3","t":"d","x":2.02,"y":154},{"s":"co3","t":"d","x":2.18,"y":118},{"s":"co3","t":"d","x":2.42,"y":61},{"s":"co3","t":"d","x":2.54,"y":59},{"s":"co3","t":"d","x":2.68,"y":44},{"s":"co3","t":"d","x":2.88,"y":8},{"s":"co3","t":"d","x":3.08,"y":11},{"s":"co3","t":"d","x":3.32,"y":58},{"s":"co3","t":"d","x":3.52,"y":124},{"s":"co3","t":"d","x":3.66,"y":144},{"s":"co3","t":"d","x":3.88,"y":104},{"s":"co3","t":"d","x":4.02,"y":28},{"s":"co3","t":"d","x":4.22,"y":64},{"s":"co3","t":"d","x":4.42,"y":94},{"s":"co3","t":"d","x":4.68,"y":64},{"s":"co3","t":"d","x":4.94,"y":21},{"s":"co3","t":"d","x":5.08,"y":4},{"s":"co3","t":"d","x":5.28,"y":38},{"s":"co3","t":"d","x":5.48,"y":21},{"s":"co3","t":"d","x":5.68,"y":11},{"s":"co3","t":"d","x":5.94,"y":24},
{"s":"co3","t":"f","x":0.02,"y":3},{"s":"co3","t":"f","x":0.54,"y":8},{"s":"co3","t":"f","x":1.02,"y":18},{"s":"co3","t":"f","x":1.34,"y":44},{"s":"co3","t":"f","x":1.68,"y":78},{"s":"co3","t":"f","x":2.02,"y":141},{"s":"co3","t":"f","x":2.28,"y":84},{"s":"co3","t":"f","x":2.54,"y":54},{"s":"co3","t":"f","x":2.88,"y":11},{"s":"co3","t":"f","x":3.22,"y":1},{"s":"co3","t":"f","x":3.48,"y":104},{"s":"co3","t":"f","x":3.68,"y":134},{"s":"co3","t":"f","x":3.94,"y":38},{"s":"co3","t":"f","x":4.14,"y":71},{"s":"co3","t":"f","x":4.42,"y":98},{"s":"co3","t":"f","x":4.82,"y":38},{"s":"co3","t":"f","x":5.08,"y":8},{"s":"co3","t":"f","x":5.48,"y":8},{"s":"co3","t":"f","x":5.94,"y":1}
],
"lab": [
{"label":"Sr²⁺(aq)","x":6.22,"y":586,"small":false},
{"label":"(no solid)","x":6.12,"y":556,"small":false},
{"label":"SG5, pH 9.7","x":6.12,"y":461,"small":false},
{"label":"SG4, pH 9.4","x":6.12,"y":388,"small":false},
{"label":"SG3, pH 8.9","x":6.12,"y":314,"small":false},
{"label":"SG2, pH 8.1","x":6.12,"y":243,"small":false},
{"label":"Ca/Sr-Zeolite","x":6.12,"y":163,"small":true},
{"label":"SrCO₃(s)","x":6.12,"y":74,"small":false}
]
},
"hconcat": [
{
"width": 488, "height": 760,
"encoding": {
  "x": {"field": "x", "type": "quantitative", "scale": {"domain": [2, 12.5], "nice": false, "zero": false},
        "axis": {"orient": "bottom", "values": [2,4,6,8,10,12], "ticks": false, "domain": false, "grid": false, "labelFont": "Liberation Serif", "labelFontSize": 28, "labelColor": "black", "labelPadding": 4, "labelFlush": false, "title": "k (Å⁻¹)", "titleFont": "Liberation Sans", "titleFontSize": 30, "titleFontWeight": "normal", "titleColor": "black", "titlePadding": 4, "titleX": 263}},
  "y": {"field": "y", "type": "quantitative", "scale": {"domain": [0, 760], "nice": false},
        "axis": {"orient": "left", "ticks": false, "labels": false, "domain": false, "grid": false, "title": "χ(k) x k³", "titleFont": "Liberation Sans", "titleFontSize": 30, "titleFontWeight": "normal", "titleColor": "black", "titlePadding": 35}}
},
"layer": [
{"data": {"name": "kt"},
 "mark": {"type": "rule", "stroke": "#000000", "strokeWidth": 1.5, "opacity": 1},
 "encoding": {
  "y": {"field": "lo", "type": "quantitative", "axis": {"orient": "left", "ticks": false, "labels": false, "domain": false, "grid": false, "title": "χ(k) x k³", "titleFont": "Liberation Sans", "titleFontSize": 30, "titleFontWeight": "normal", "titleColor": "black", "titlePadding": 35}},
  "y2": {"field": "hi"}
 }},
{"data": {"name": "k"},
 "transform": [{"filter": "datum.t == 'd'"}],
 "mark": {"type": "line", "strokeWidth": 2.5, "clip": true},
 "encoding": {
  "color": {"field": "s", "type": "nominal", "scale": {"domain": ["aq","sg5","sg4","sg3","sg2","zeo","co3"], "range": ["#000000","#dd1111","#44dd22","#8833ee","#33e3f0","#000000","#000000"]}, "legend": null},
  "order": {"field": "x", "type": "quantitative"}
 }},
{"data": {"name": "k"},
 "transform": [{"filter": "datum.t == 'f'"}],
 "mark": {"type": "line", "strokeWidth": 3, "strokeDash": [9, 5], "color": "black", "interpolate": "monotone", "clip": true},
 "encoding": {
  "detail": {"field": "s"},
  "order": {"field": "x", "type": "quantitative"}
 }}
]
},
{
"width": 300, "height": 760,
"encoding": {
  "x": {"field": "x", "type": "quantitative", "scale": {"domain": [0, 6], "nice": false, "zero": false},
        "axis": {"orient": "bottom", "values": [0,1,2,3,4,5,6], "ticks": false, "domain": false, "grid": false, "labelFont": "Liberation Serif", "labelFontSize": 28, "labelColor": "black", "labelPadding": 4, "labelFlush": false, "title": "R + Δ (Å)", "titleFont": "Liberation Sans", "titleFontSize": 30, "titleFontWeight": "normal", "titleColor": "black", "titlePadding": 4, "titleX": 166}},
  "y": {"field": "y", "type": "quantitative", "scale": {"domain": [0, 760], "nice": false},
        "axis": {"orient": "left", "ticks": false, "labels": false, "domain": false, "grid": false, "title": "Fourier Transform Magnitude", "titleFont": "Liberation Sans", "titleFontSize": 30, "titleFontWeight": "normal", "titleColor": "black", "titlePadding": 28, "titleY": 399}}
},
"layer": [
{"data": {"name": "rt"},
 "mark": {"type": "rule", "stroke": "#000000", "strokeWidth": 1.5, "opacity": 1},
 "encoding": {
  "y": {"field": "lo", "type": "quantitative", "axis": {"orient": "left", "ticks": false, "labels": false, "domain": false, "grid": false, "title": "Fourier Transform Magnitude", "titleFont": "Liberation Sans", "titleFontSize": 30, "titleFontWeight": "normal", "titleColor": "black", "titlePadding": 28, "titleY": 399}},
  "y2": {"field": "hi"}
 }},
{"data": {"name": "r"},
 "transform": [{"filter": "datum.t == 'd'"}],
 "mark": {"type": "line", "strokeWidth": 2.5, "clip": true, "interpolate": "monotone"},
 "encoding": {
  "color": {"field": "s", "type": "nominal", "scale": {"domain": ["aq","sg5","sg4","sg3","sg2","zeo","co3"], "range": ["#000000","#dd1111","#44dd22","#8833ee","#33e3f0","#000000","#000000"]}, "legend": null},
  "order": {"field": "x", "type": "quantitative"}
 }},
{"data": {"name": "r"},
 "transform": [{"filter": "datum.t == 'f'"}],
 "mark": {"type": "line", "strokeWidth": 3, "strokeDash": [9, 5], "color": "black", "interpolate": "monotone", "clip": true},
 "encoding": {
  "detail": {"field": "s"},
  "order": {"field": "x", "type": "quantitative"}
 }},
{"data": {"name": "lab"},
 "transform": [{"filter": "!datum.small"}],
 "mark": {"type": "text", "align": "left", "baseline": "middle", "font": "Liberation Sans", "fontSize": 28, "color": "black"},
 "encoding": {"text": {"field": "label"}}},
{"data": {"name": "lab"},
 "transform": [{"filter": "datum.small"}],
 "mark": {"type": "text", "align": "left", "baseline": "middle", "font": "Liberation Sans", "fontSize": 24, "color": "black"},
 "encoding": {"text": {"field": "label"}}}
]
}
]
}
